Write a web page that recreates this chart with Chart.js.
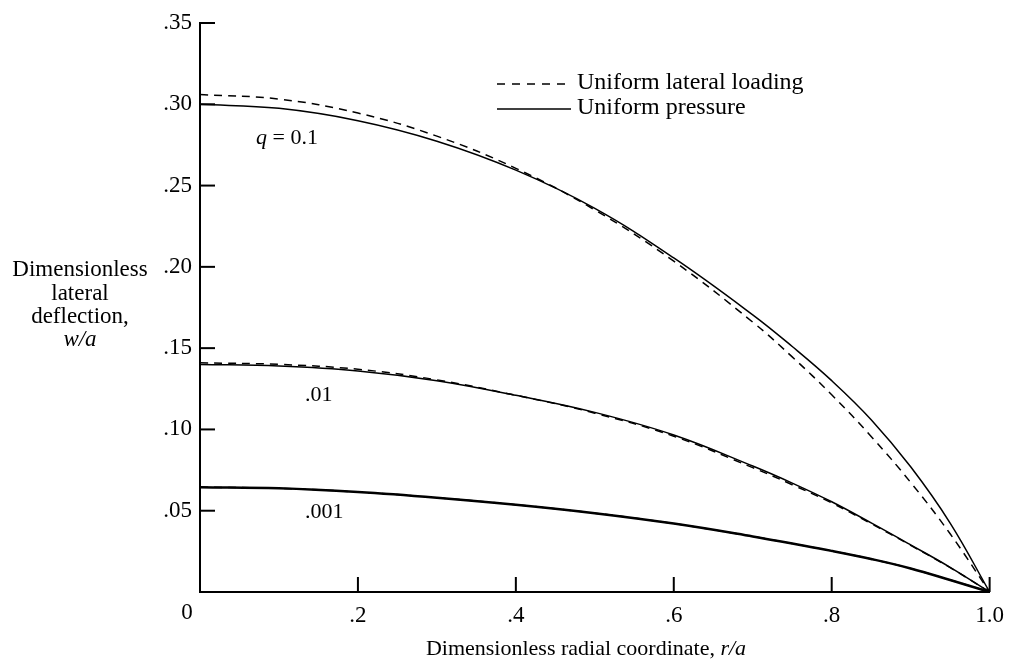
<!DOCTYPE html>
<html>
<head>
<meta charset="utf-8">
<script src="https://cdn.jsdelivr.net/npm/chart.js@4/dist/chart.umd.min.js"></script>
<style>
  html, body { margin: 0; padding: 0; background: #fff; }
  #wrap { width: 1014px; height: 671px; position: relative; }
</style>
</head>
<body>
<div id="wrap"><canvas id="plate"></canvas></div>
<script>
// radial positions r/a
const rPos = [0, 0.1, 0.2, 0.3, 0.4, 0.5, 0.6, 0.7, 0.75, 0.8, 0.85, 0.9, 0.95, 1.0];

// w/a, uniform pressure (solid)
const pres01   = [0.300, 0.2975, 0.2899, 0.2773, 0.2595, 0.236, 0.2055, 0.1705, 0.151, 0.130, 0.106, 0.077, 0.0424, 0];
const pres001  = [0.140, 0.139, 0.136, 0.130, 0.121, 0.1105, 0.0966, 0.0775, 0.067, 0.0555, 0.0425, 0.029, 0.0152, 0];
const pres0001 = [0.0645, 0.0638, 0.0615, 0.058, 0.0537, 0.0485, 0.0421, 0.0342, 0.0298, 0.0253, 0.0203, 0.0145, 0.0074, 0];

// w/a, uniform lateral loading (dashed)
const lat01   = [0.306, 0.3032, 0.2946, 0.2804, 0.2606, 0.235, 0.2035, 0.166, 0.1446, 0.1213, 0.0957, 0.0674, 0.0358, 0];
const lat001  = [0.141, 0.140, 0.137, 0.1305, 0.121, 0.110, 0.0958, 0.0765, 0.066, 0.0548, 0.042, 0.0287, 0.015, 0];
const lat0001 = [0.0645, 0.0638, 0.0615, 0.058, 0.0537, 0.0485, 0.0421, 0.0342, 0.0298, 0.0253, 0.0203, 0.0145, 0.0074, 0];

const xTickLabels = ['0', '.2', '.4', '.6', '.8', '1.0'];
const yTickLabels = ['', '.05', '.10', '.15', '.20', '.25', '.30', '.35'];

const SERIF = '"Liberation Serif", "DejaVu Serif", serif';

const pts = arr => arr.map((v, i) => ({ x: rPos[i], y: v }));

const solid = (arr, w) => ({
    data: pts(arr),
    borderColor: '#000',
    borderWidth: w,
    pointRadius: 0,
    fill: false,
    tension: 0.4
});
const dashed = (arr, w) => ({
    data: pts(arr),
    borderColor: '#000',
    borderWidth: w,
    borderDash: [8, 6],
    pointRadius: 0,
    fill: false,
    tension: 0.4
});

// tick marks (inside), labels, legend, axis titles
const extras = {
    id: 'extras',
    afterDraw(chart) {
        const ctx = chart.ctx;
        const xs = chart.scales.x, ys = chart.scales.y;
        const area = chart.chartArea;
        ctx.save();
        ctx.strokeStyle = '#000';
        ctx.lineWidth = 2;
        xs.ticks.forEach(t => {
            if (t.value === 0) return;
            const px = xs.getPixelForValue(t.value);
            ctx.beginPath();
            ctx.moveTo(px, area.bottom);
            ctx.lineTo(px, area.bottom - 15);
            ctx.stroke();
        });
        ys.ticks.forEach(t => {
            if (t.value === 0) return;
            const py = ys.getPixelForValue(t.value);
            ctx.beginPath();
            ctx.moveTo(area.left, py);
            ctx.lineTo(area.left + 15, py);
            ctx.stroke();
        });

        ctx.fillStyle = '#000';
        ctx.textBaseline = 'middle';

        // the corner "0"
        ctx.font = '23px ' + SERIF;
        ctx.textAlign = 'center';
        ctx.fillText(xTickLabels[0], xs.getPixelForValue(0) - 13, area.bottom + 21);

        // curve labels
        ctx.textAlign = 'left';
        ctx.font = 'italic 22px ' + SERIF;
        ctx.fillText('q', 256, 138);
        const qw = ctx.measureText('q').width;
        ctx.font = '22px ' + SERIF;
        ctx.fillText(' = 0.1', 256 + qw, 138);
        ctx.fillText('.01', 305, 395);
        ctx.fillText('.001', 305, 512);

        // legend
        ctx.lineWidth = 1.5;
        ctx.setLineDash([8, 7]);
        ctx.beginPath();
        ctx.moveTo(497, 84);
        ctx.lineTo(571, 84);
        ctx.stroke();
        ctx.setLineDash([]);
        ctx.beginPath();
        ctx.moveTo(497, 109);
        ctx.lineTo(571, 109);
        ctx.stroke();
        ctx.font = '24px ' + SERIF;
        ctx.fillText('Uniform lateral loading', 577, 83);
        ctx.fillText('Uniform pressure', 577, 108);

        // y title
        ctx.font = '23px ' + SERIF;
        ctx.textAlign = 'center';
        ctx.fillText('Dimensionless', 80, 270);
        ctx.fillText('lateral', 80, 294);
        ctx.fillText('deflection,', 80, 317);
        ctx.font = 'italic 23px ' + SERIF;
        ctx.fillText('w/a', 80, 340);

        // x title
        const main = 'Dimensionless radial coordinate, ';
        ctx.font = 'italic 22px ' + SERIF;
        const ra = ctx.measureText('r/a').width;
        ctx.font = '22px ' + SERIF;
        const mw = ctx.measureText(main).width;
        const x0 = 586 - (mw + ra) / 2;
        ctx.textAlign = 'left';
        ctx.fillText(main, x0, 649);
        ctx.font = 'italic 22px ' + SERIF;
        ctx.fillText('r/a', x0 + mw, 649);
        ctx.restore();
    }
};

new Chart(document.getElementById('plate'), {
    type: 'line',
    data: {
        datasets: [
            solid(pres01, 1.5),
            dashed(lat01, 1.5),
            solid(pres001, 1.5),
            dashed(lat001, 1.5),
            solid(pres0001, 2.5),
            dashed(lat0001, 1.5)
        ]
    },
    options: {
        responsive: true,
        maintainAspectRatio: false,
        animation: false,
        layout: { padding: { left: 0, top: 23, right: 21, bottom: 0 } },
        plugins: { legend: { display: false }, tooltip: { enabled: false } },
        scales: {
            x: {
                type: 'linear',
                min: 0, max: 1,
                grid: { display: false, drawTicks: false },
                border: { color: '#000', width: 2 },
                ticks: {
                    stepSize: 0.2,
                    color: '#000',
                    padding: 10,
                    font: { family: SERIF, size: 23 },
                    callback: (v, i) => i === 0 ? '' : xTickLabels[i]
                },
                afterFit: s => { s.height = 79; }
            },
            y: {
                min: 0, max: 0.35,
                grid: { display: false, drawTicks: false },
                border: { color: '#000', width: 2 },
                ticks: {
                    stepSize: 0.05,
                    color: '#000',
                    padding: 8,
                    font: { family: SERIF, size: 23 },
                    callback: (v, i) => yTickLabels[i]
                },
                afterFit: s => { s.width = 200; }
            }
        }
    },
    plugins: [extras]
});
</script>
</body>
</html>
